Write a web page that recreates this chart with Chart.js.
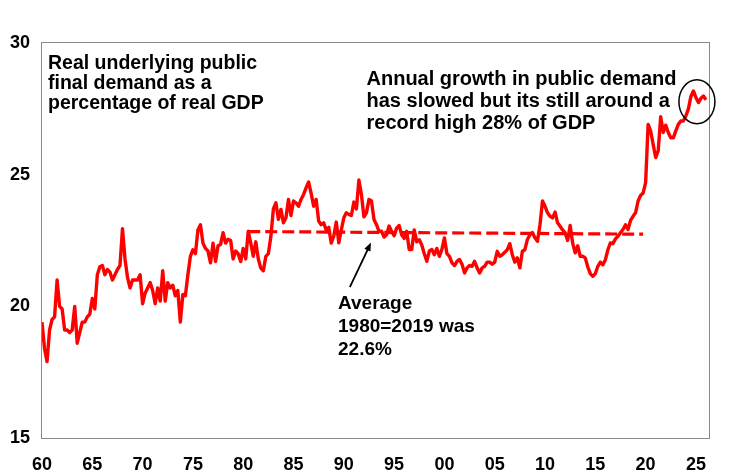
<!DOCTYPE html>
<html>
<head>
<meta charset="utf-8">
<title>Real underlying public final demand</title>
<script src="https://cdn.jsdelivr.net/npm/chart.js@4.4.1/dist/chart.umd.min.js"></script>
<style>
  html, body { margin: 0; padding: 0; background: #ffffff; }
  #wrap { width: 731px; height: 476px; }
</style>
</head>
<body>
<div id="wrap"><canvas id="myChart" width="731" height="476"></canvas></div>
<script>
// quarterly series, first point = 1960 Q1
const startYear = 1960;
const demandShare = [
  19.4, 18.4, 17.9, 19.1, 19.5, 19.6, 21.0, 20.0, 19.9, 19.1,
  19.1, 19.0, 19.1, 20.0, 18.6, 19.0, 19.4, 19.4, 19.6, 19.7,
  20.3, 19.9, 21.2, 21.5, 21.55, 21.2, 21.4, 21.3, 21.0, 21.2,
  21.4, 21.55, 22.95, 21.8, 21.1, 20.7, 21.0, 21.0, 21.0, 21.2,
  20.1, 20.5, 20.7, 20.9, 20.6, 20.1, 20.7, 20.2, 21.35, 20.2,
  20.9, 20.7, 20.8, 20.4, 20.6, 19.4, 20.45, 20.4, 21.2, 21.9,
  22.15, 22.0, 22.9, 23.1, 22.4, 22.2, 22.1, 21.65, 22.4, 21.7,
  22.3, 22.35, 22.8, 22.4, 22.55, 22.5, 21.8, 22.1, 22.0, 21.7,
  22.2, 21.8, 22.85, 22.4, 21.9, 22.45, 21.8, 21.45, 21.35, 21.9,
  22.0, 22.66, 23.7, 23.93, 23.3, 23.68, 23.17, 23.36, 24.06, 23.45,
  24.0, 23.93, 23.8, 24.06, 24.25, 24.5, 24.72, 24.3, 23.8, 24.06,
  23.24, 23.1, 23.17, 22.9, 23.0, 22.4, 22.66, 23.2, 22.41, 22.9,
  23.36, 23.55, 23.49, 23.45, 23.96, 23.7, 24.8, 24.25, 23.4, 23.55,
  24.06, 24.0, 23.3, 23.1, 22.85, 22.85, 22.63, 22.72, 23.05, 22.85,
  22.68, 22.97, 23.07, 22.72, 22.58, 22.85, 22.16, 22.16, 22.9, 22.45,
  22.53, 22.33, 22.0, 21.71, 22.1, 22.16, 21.96, 22.2, 21.9, 22.16,
  22.6, 22.0, 21.9, 21.65, 21.55, 21.71, 21.78, 21.6, 21.27, 21.46,
  21.55, 21.52, 21.71, 21.46, 21.27, 21.46, 21.52, 21.68, 21.68, 21.6,
  21.68, 22.09, 21.9, 21.96, 22.05, 22.15, 22.38, 21.96, 21.68, 21.84,
  21.46, 22.09, 22.15, 22.54, 22.72, 22.8, 22.6, 22.47, 23.1, 24.0,
  23.8, 23.55, 23.42, 23.36, 23.58, 23.17, 23.04, 22.9, 22.79, 22.5,
  23.07, 22.4, 22.03, 22.3, 21.9, 21.9, 21.84, 21.5, 21.24, 21.14,
  21.24, 21.52, 21.68, 21.58, 21.77, 22.15, 22.41, 22.38, 22.56, 22.66,
  22.79, 22.92, 23.1, 22.92, 23.26, 23.42, 23.55, 24.0, 24.21, 24.3,
  24.7, 26.91, 26.66, 26.15, 25.65, 25.9, 27.2, 26.6, 26.88, 26.6,
  26.4, 26.4, 26.66, 26.91, 27.04, 27.04, 27.23, 27.49, 27.97, 28.18,
  27.93, 27.74, 27.9, 27.99, 27.84
];

// 1980-2019 average line
const avgYears = [1980.5, 2019.75];
const avgValues = [22.84, 22.74];

const xTickYears = [1960, 1965, 1970, 1975, 1980, 1985, 1990, 1995, 2000, 2005, 2010, 2015, 2020, 2025];
const yTickValues = [15, 20, 25, 30];

const titleLines = ['Real underlying public', 'final demand as a', 'percentage of real GDP'];
const noteLines = ['Annual growth in public demand', 'has slowed but its still around a', 'record high 28% of GDP'];
const avgLines = ['Average', '1980=2019 was', '22.6%'];

const FONT = '"Liberation Sans", Arial, Helvetica, sans-serif';

const demandPoints = demandShare.map((v, i) => ({ x: startYear + i / 4, y: v }));
const avgPoints = avgYears.map((yr, i) => ({ x: yr, y: avgValues[i] }));

// frame, texts, arrow and circle
const extras = {
    id: 'extras',
    afterDraw(chart) {
        const ctx = chart.ctx;
        const a = chart.chartArea;
        const xs = chart.scales.x;
        const ys = chart.scales.y;
        ctx.save();

        // box round the plot
        ctx.strokeStyle = '#888888';
        ctx.lineWidth = 1;
        ctx.strokeRect(a.left + 0.5, a.top - 0.5, a.right - a.left - 1, a.bottom - a.top + 1);

        ctx.fillStyle = '#000000';
        ctx.textBaseline = 'alphabetic';
        ctx.textAlign = 'left';

        ctx.font = 'bold 19.5px ' + FONT;
        titleLines.forEach((t, i) => ctx.fillText(t, 48, 68.5 + i * 20.3));

        ctx.font = 'bold 20px ' + FONT;
        noteLines.forEach((t, i) => ctx.fillText(t, 366.5, 84.5 + i * 22));

        ctx.font = 'bold 19px ' + FONT;
        avgLines.forEach((t, i) => ctx.fillText(t, 338, 308.5 + i * 23));

        // arrow pointing at the average line
        const x0 = xs.getPixelForValue(1990.6), y0 = ys.getPixelForValue(20.73);
        const x1 = xs.getPixelForValue(1992.7), y1 = ys.getPixelForValue(22.42);
        const ang = Math.atan2(y1 - y0, x1 - x0);
        ctx.strokeStyle = '#000000';
        ctx.lineWidth = 1.8;
        ctx.beginPath();
        ctx.moveTo(x0, y0);
        ctx.lineTo(x1 - 6 * Math.cos(ang), y1 - 6 * Math.sin(ang));
        ctx.stroke();
        ctx.beginPath();
        ctx.moveTo(x1, y1);
        ctx.lineTo(x1 - 9 * Math.cos(ang - 0.38), y1 - 9 * Math.sin(ang - 0.38));
        ctx.lineTo(x1 - 9 * Math.cos(ang + 0.38), y1 - 9 * Math.sin(ang + 0.38));
        ctx.closePath();
        ctx.fill();

        // circle round the latest readings
        const cx = xs.getPixelForValue(2025.1), cy = ys.getPixelForValue(27.77);
        ctx.lineWidth = 1.5;
        ctx.beginPath();
        ctx.ellipse(cx, cy, 18, 22, 0, 0, Math.PI * 2);
        ctx.stroke();

        ctx.restore();
    }
};

const ctx = document.getElementById('myChart').getContext('2d');
const myChart = new Chart(ctx, {
    type: 'line',
    data: {
        datasets: [
            {
                data: demandPoints,
                borderColor: '#ff0000',
                borderWidth: 3.4,
                borderJoinStyle: 'round',
                pointRadius: 0,
                tension: 0
            },
            {
                data: avgPoints,
                borderColor: '#ff0000',
                borderWidth: 3.2,
                borderDash: [12, 5],
                pointRadius: 0,
                tension: 0
            }
        ]
    },
    options: {
        responsive: false,
        animation: false,
        events: [],
        layout: { padding: { top: 43, right: 21, left: 0, bottom: 0 } },
        plugins: {
            legend: { display: false },
            tooltip: { enabled: false }
        },
        scales: {
            x: {
                type: 'linear',
                min: 1959.9,
                max: 2026.4,
                grid: { display: false, drawTicks: false },
                border: { display: false },
                afterFit: s => { s.height = 38; },
                afterBuildTicks: s => { s.ticks = xTickYears.map(v => ({ value: v })); },
                ticks: {
                    color: '#000000',
                    padding: 16,
                    maxRotation: 0,
                    autoSkip: false,
                    font: { family: FONT, size: 18, weight: 'bold' },
                    callback: v => String(v % 100).padStart(2, '0')
                }
            },
            y: {
                min: 15,
                max: 30,
                grid: { display: false, drawTicks: false },
                border: { display: false },
                afterFit: s => { s.width = 41; },
                afterBuildTicks: s => { s.ticks = yTickValues.map(v => ({ value: v })); },
                ticks: {
                    color: '#000000',
                    padding: 11,
                    font: { family: FONT, size: 18, weight: 'bold' }
                }
            }
        }
    },
    plugins: [extras]
});
</script>
</body>
</html>
